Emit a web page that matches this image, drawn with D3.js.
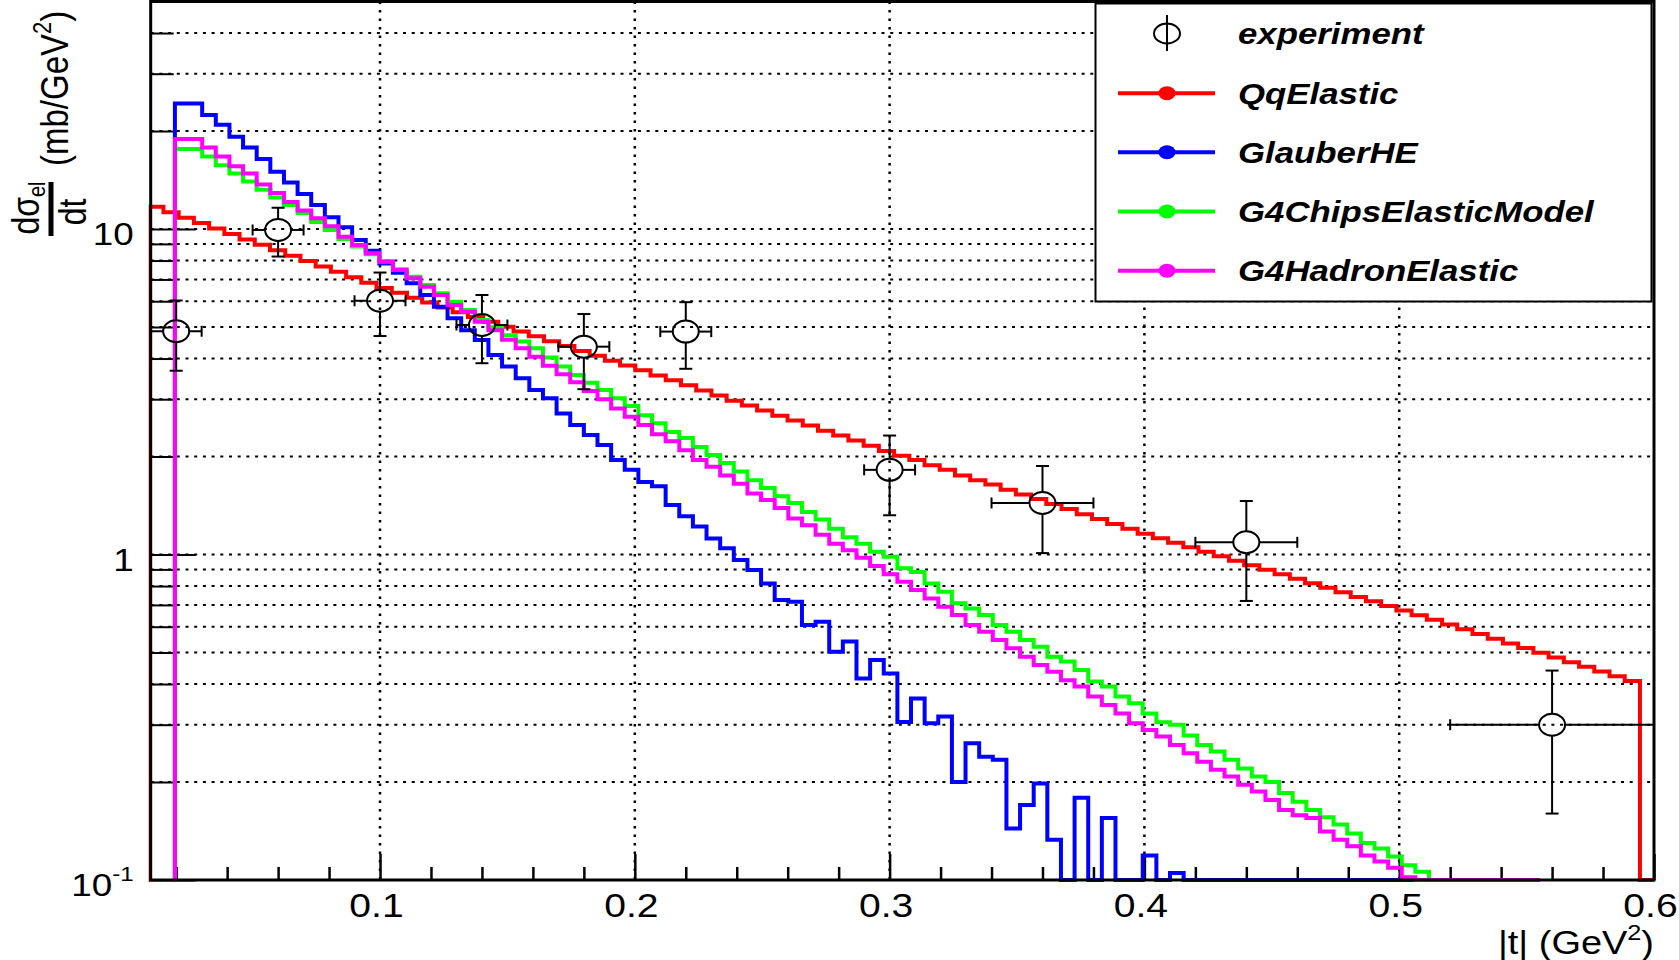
<!DOCTYPE html>
<html><head><meta charset="utf-8">
<script src="https://cdn.jsdelivr.net/npm/d3@7"></script>
<style>body{margin:0;background:#fff;} svg{display:block;}</style>
</head><body>
<svg id="chart" width="1679" height="960"></svg>
<script>
// ---------- DATA ----------
// histogram binning (|t| in GeV^2)
const qqBinStart = 0.00903, qqBinWidth = 0.005974;
const modelBinStart = 0.0195, modelBinWidth = 0.00535;

const qqElastic = [11.70, 11.26, 10.83, 10.43, 10.04, 9.66, 9.29, 8.94, 8.61, 8.28,
 7.97, 7.67, 7.39, 7.11, 6.84, 6.59, 6.37, 6.15, 5.95, 5.74,
 5.55, 5.37, 5.19, 5.01, 4.84, 4.68, 4.52, 4.37, 4.22, 4.08,
 3.94, 3.81, 3.68, 3.55, 3.43, 3.31, 3.19, 3.08, 2.97, 2.87,
 2.77, 2.67, 2.58, 2.49, 2.40, 2.32, 2.24, 2.16, 2.08, 2.01,
 1.95, 1.88, 1.82, 1.75, 1.69, 1.64, 1.58, 1.53, 1.48, 1.43,
 1.38, 1.33, 1.285, 1.24, 1.20, 1.158, 1.122, 1.087, 1.052, 1.019,
 0.987, 0.956, 0.927, 0.897, 0.869, 0.842, 0.816, 0.790, 0.765, 0.741,
 0.718, 0.695, 0.673, 0.651, 0.630, 0.609, 0.589, 0.570, 0.551, 0.533,
 0.516, 0.499, 0.483, 0.467, 0.452, 0.437, 0.423, 0.409, 0];

const glauberHE = [24.3, 24.3, 22.4, 20.9, 19.2, 17.8, 16.4, 15.0, 13.9, 12.8,
 11.85, 10.86, 10.12, 9.25, 8.58, 7.84, 7.34, 6.81, 6.27, 5.77,
 5.32, 4.89, 4.56, 4.10, 3.78, 3.48, 3.20, 3.02, 2.71, 2.50,
 2.33, 2.17, 1.95, 1.82, 1.67, 1.62, 1.42, 1.31, 1.22, 1.12,
 1.045, 0.962, 0.896, 0.815, 0.725, 0.716, 0.607, 0.622, 0.503, 0.540,
 0.416, 0.474, 0.431, 0.306, 0.361, 0.303, 0.318, 0.200, 0.263, 0.239,
 0.234, 0.144, 0.170, 0.198, 0.133, 0, 0.179, 0, 0.155, 0,
 0, 0.119, 0, 0.105, 0, 0, 0, 0, 0, 0,
 0, 0, 0, 0, 0, 0, 0, 0, 0, 0,
 0, 0, 0, 0, 0, 0, 0, 0, 0, 0];

const g4ChipsElasticModel = [17.6, 17.6, 16.7, 15.7, 14.8, 14.0, 13.2, 12.5, 11.85, 11.2,
 10.5, 9.93, 9.32, 8.83, 8.36, 7.94, 7.52, 7.14, 6.73, 6.35,
 5.98, 5.64, 5.25, 4.99, 4.72, 4.51, 4.30, 4.03, 3.78, 3.56,
 3.37, 3.20, 3.02, 2.86, 2.68, 2.53, 2.38, 2.28, 2.14, 2.02,
 1.91, 1.80, 1.69, 1.60, 1.51, 1.44, 1.35, 1.28, 1.20, 1.13,
 1.08, 1.02, 0.984, 0.907, 0.883, 0.815, 0.769, 0.708, 0.683, 0.652,
 0.607, 0.579, 0.546, 0.521, 0.485, 0.469, 0.442, 0.407, 0.393, 0.366,
 0.349, 0.325, 0.305, 0.300, 0.278, 0.260, 0.248, 0.234, 0.220, 0.208,
 0.200, 0.185, 0.174, 0.164, 0.156, 0.148, 0.139, 0.130, 0.125, 0.118,
 0.111, 0.106, 0, 0, 0, 0, 0, 0, 0, 0];

const g4HadronElastic = [18.9, 18.9, 17.8, 16.7, 15.6, 14.8, 13.7, 12.9, 12.1, 11.4,
 10.8, 10.2, 9.47, 8.93, 8.42, 7.94, 7.48, 7.06, 6.65, 6.27,
 5.84, 5.57, 5.19, 4.89, 4.57, 4.30, 4.05, 3.80, 3.58, 3.38,
 3.18, 3.00, 2.81, 2.65, 2.50, 2.34, 2.23, 2.09, 1.95, 1.86,
 1.75, 1.65, 1.54, 1.47, 1.39, 1.29, 1.23, 1.15, 1.08, 1.03,
 0.978, 0.922, 0.870, 0.825, 0.778, 0.733, 0.691, 0.652, 0.607, 0.579,
 0.546, 0.515, 0.485, 0.458, 0.436, 0.411, 0.393, 0.366, 0.345, 0.325,
 0.303, 0.289, 0.276, 0.260, 0.245, 0.231, 0.218, 0.208, 0.196, 0.187,
 0.176, 0.164, 0.158, 0.155, 0.141, 0.133, 0.127, 0.119, 0.114, 0.109,
 0.102, 0, 0, 0, 0, 0, 0, 0, 0, 0];

// experiment
const expT    = [0.02, 0.06, 0.10, 0.14, 0.18, 0.22, 0.30, 0.36, 0.44, 0.56];
const expV    = [4.85, 9.93, 6.02, 5.07, 4.35, 4.84, 1.82, 1.44, 1.09, 0.30];
const expErrT = [0.01, 0.01, 0.01, 0.01, 0.01, 0.01, 0.01, 0.02, 0.02, 0.04];
const expErrV = [1.18, 1.70, 1.33, 1.20, 1.13, 1.12, 0.50, 0.43, 0.37, 0.14];

const seriesNames = ["QqElastic", "GlauberHE", "G4ChipsElasticModel", "G4HadronElastic"];
const seriesColors = ["#ff0000", "#0000ff", "#00ff00", "#ff00ff"];
const expName = "experiment";

const xTickMajor = [0.1, 0.2, 0.3, 0.4, 0.5, 0.6];
const xTickLabels = ["0.1", "0.2", "0.3", "0.4", "0.5", "0.6"];
const xTickMinor = [0.02,0.04,0.06,0.08,0.12,0.14,0.16,0.18,0.22,0.24,0.26,0.28,0.32,0.34,0.36,0.38,0.42,0.44,0.46,0.48,0.52,0.54,0.56,0.58];
const yTickMajor = [0.1, 1, 10];
const yTickLabels = [["10","-1"], ["1",""], ["10",""]];
const yTickMinor = [0.2,0.3,0.4,0.5,0.6,0.7,0.8,0.9,2,3,4,5,6,7,8,9,20,30,40];

// ---------- LAYOUT ----------
const W = 1679, H = 960;
const M = {left: 150.7, right: 1654, top: 1.5, bottom: 880};
const SX = 1.15; // horizontal glyph stretch of the original
const FONT = "'Liberation Sans', Arial, Helvetica, sans-serif";

const x = d3.scaleLinear().domain([0.01, 0.6]).range([M.left, M.right]);
const y = d3.scaleLog().domain([0.1, 50]).range([M.bottom, M.top]);

const svg = d3.select("#chart");
svg.append("rect").attr("width", W).attr("height", H).attr("fill", "#fff");
const defs = svg.append("defs");
defs.append("clipPath").attr("id", "clip").append("rect")
  .attr("x", M.left - 2).attr("y", M.top).attr("width", M.right - M.left + 2).attr("height", M.bottom - M.top + 3);

// ---------- GRID ----------
const grid = svg.append("g");
grid.selectAll("line.gy").data(yTickMinor.concat([1, 10])).join("line")
  .attr("x1", M.left).attr("x2", M.right).attr("y1", d => y(d)).attr("y2", d => y(d))
  .attr("stroke", "#000").attr("stroke-width", 2).attr("stroke-dasharray", "3 5.7");
grid.selectAll("line.gx").data(xTickMajor.filter(d => d < 0.6)).join("line")
  .attr("y1", M.top).attr("y2", M.bottom).attr("x1", d => x(d)).attr("x2", d => x(d))
  .attr("stroke", "#000").attr("stroke-width", 2.5).attr("stroke-dasharray", "2.5 6");

// ---------- AXES (ticks) ----------
const xMinorAxis = d3.axisBottom(x).tickValues(xTickMinor).tickSize(-13).tickFormat("");
const xMajorAxis = d3.axisBottom(x).tickValues(xTickMajor).tickSize(-26).tickFormat((d, i) => xTickLabels[i]);
const gxm = svg.append("g").attr("transform", `translate(0,${M.bottom})`).call(xMinorAxis);
const gxM = svg.append("g").attr("transform", `translate(0,${M.bottom})`).call(xMajorAxis);
[gxm, gxM].forEach(g => { g.select(".domain").remove(); g.selectAll("line").attr("stroke", "#000").attr("stroke-width", 2.5); });
gxM.selectAll("text").attr("y", null).attr("dy", null)
  .attr("transform", "translate(-4,37) scale(" + SX + ",1)")
  .attr("font-family", FONT).attr("font-size", 34).attr("fill", "#000").attr("text-anchor", "middle");

const yMinorAxis = d3.axisLeft(y).tickValues(yTickMinor).tickSize(-23).tickFormat("");
const yMajorAxis = d3.axisLeft(y).tickValues(yTickMajor).tickSize(-45).tickFormat("");
const gym = svg.append("g").attr("transform", `translate(${M.left},0)`).call(yMinorAxis);
const gyM = svg.append("g").attr("transform", `translate(${M.left},0)`).call(yMajorAxis);
[gym, gyM].forEach(g => { g.select(".domain").remove(); g.selectAll("line").attr("stroke", "#000").attr("stroke-width", 2); });
gyM.selectAll(".tick").each(function(d, i) {
  const t = d3.select(this).select("text");
  t.attr("x", null).attr("dy", null).attr("text-anchor", "end")
    .attr("transform", "translate(-17,15.5) scale(" + SX + ",1)")
    .attr("font-family", FONT).attr("font-size", 32).attr("fill", "#000");
  t.append("tspan").text(yTickLabels[i][0]);
  if (yTickLabels[i][1]) t.append("tspan").attr("font-size", 21).attr("dy", -15).text(yTickLabels[i][1]);
});

// ---------- HISTOGRAMS ----------
function histPoints(start, width, vals) {
  const yv = v => (v > 0.1 ? y(v) : M.bottom);
  const pts = [[x(start), M.bottom]];
  vals.forEach((v, i) => {
    pts.push([x(start + i * width), yv(v)]);
    pts.push([x(start + (i + 1) * width), yv(v)]);
  });
  return pts;
}
const histData = [
  histPoints(qqBinStart, qqBinWidth, qqElastic),
  histPoints(modelBinStart, modelBinWidth, glauberHE),
  histPoints(modelBinStart, modelBinWidth, g4ChipsElasticModel),
  histPoints(modelBinStart, modelBinWidth, g4HadronElastic)
];
const plot = svg.append("g").attr("clip-path", "url(#clip)");
plot.selectAll("path.hist").data(histData).join("path")
  .attr("d", d3.line())
  .attr("fill", "none")
  .attr("stroke", (d, i) => seriesColors[i])
  .attr("stroke-width", 4)
  .attr("stroke-linejoin", "miter")
  .attr("stroke-linecap", "square");

// ---------- EXPERIMENT ----------
const RX = 13, RY = 11, CAPV = 6.5, CAPH = 5.5;
const expData = expT.map((t, i) => ({t, v: expV[i], et: expErrT[i], ev: expErrV[i]}));
const eg = plot.selectAll("g.exp").data(expData).join("g").attr("stroke", "#000").attr("stroke-width", 2).attr("fill", "none");
eg.each(function(d) {
  const g = d3.select(this);
  const cx = x(d.t), cy = y(d.v);
  const yt = y(d.v + d.ev), yb = y(Math.max(d.v - d.ev, 0.1001));
  const xl = x(d.t - d.et), xr = x(d.t + d.et);
  g.append("line").attr("x1", cx).attr("x2", cx).attr("y1", yt).attr("y2", cy - RY);
  g.append("line").attr("x1", cx).attr("x2", cx).attr("y1", cy + RY).attr("y2", yb);
  g.append("line").attr("x1", cx - CAPV).attr("x2", cx + CAPV).attr("y1", yt).attr("y2", yt);
  g.append("line").attr("x1", cx - CAPV).attr("x2", cx + CAPV).attr("y1", yb).attr("y2", yb);
  g.append("line").attr("x1", xl).attr("x2", cx - RX).attr("y1", cy).attr("y2", cy);
  g.append("line").attr("x1", cx + RX).attr("x2", xr).attr("y1", cy).attr("y2", cy);
  g.append("line").attr("x1", xl).attr("x2", xl).attr("y1", cy - CAPH).attr("y2", cy + CAPH);
  g.append("line").attr("x1", xr).attr("x2", xr).attr("y1", cy - CAPH).attr("y2", cy + CAPH);
  g.append("ellipse").attr("cx", cx).attr("cy", cy).attr("rx", RX).attr("ry", RY);
});

// ---------- FRAME ----------
svg.append("rect").attr("x", M.left).attr("y", M.top).attr("width", M.right - M.left).attr("height", M.bottom - M.top)
  .attr("fill", "none").attr("stroke", "#000").attr("stroke-width", 3);

// ---------- AXIS TITLES ----------
const xt = svg.append("text").attr("text-anchor", "end")
  .attr("transform", `translate(${M.right},954) scale(${SX},1)`)
  .attr("font-family", FONT).attr("font-size", 33).attr("fill", "#000");
xt.append("tspan").text("|t| (GeV");
xt.append("tspan").attr("font-size", 22).attr("dy", -14).text("2");
xt.append("tspan").attr("dy", 14).text(")");

const yt1 = svg.append("text").attr("text-anchor", "start")
  .attr("transform", `translate(68,166) scale(1.2,1) rotate(-90)`)
  .attr("font-family", FONT).attr("font-size", 33).attr("fill", "#000");
yt1.append("tspan").text("(mb/GeV");
yt1.append("tspan").attr("font-size", 22).attr("dy", -14).text("2");
yt1.append("tspan").attr("dy", 14).text(")");

const num = svg.append("text").attr("text-anchor", "middle")
  .attr("transform", `translate(39,208) scale(1.2,1) rotate(-90)`)
  .attr("font-family", FONT).attr("font-size", 32).attr("fill", "#000");
num.append("tspan").text("dσ");
num.append("tspan").attr("font-size", 20).attr("dy", 5).text("el");
svg.append("line").attr("x1", 51).attr("x2", 51).attr("y1", 182).attr("y2", 236)
  .attr("stroke", "#000").attr("stroke-width", 5);
svg.append("text").attr("text-anchor", "middle")
  .attr("transform", `translate(86,212) scale(1.2,1) rotate(-90)`)
  .attr("font-family", FONT).attr("font-size", 32).attr("fill", "#000").text("dt");

// ---------- LEGEND ----------
const L = {x: 1095.5, y: 3.5, w: 556, h: 298};
const lg = svg.append("g");
lg.append("rect").attr("x", L.x).attr("y", L.y).attr("width", L.w).attr("height", L.h)
  .attr("fill", "#fff").attr("stroke", "#000").attr("stroke-width", 2);
const rowY = [33.5, 93.3, 152.3, 211.5, 270.7];
const legendLabels = [expName].concat(seriesNames);
lg.selectAll("text.leg").data(legendLabels).join("text")
  .attr("transform", (d, i) => `translate(1238,${rowY[i] + 10.5}) scale(1.2,1)`)
  .attr("font-family", FONT).attr("font-size", 29).attr("font-weight", "bold").attr("font-style", "italic")
  .attr("fill", "#000").text(d => d);
// experiment symbol
lg.append("line").attr("x1", 1167).attr("x2", 1167).attr("y1", 15).attr("y2", 51).attr("stroke", "#000").attr("stroke-width", 2);
lg.append("ellipse").attr("cx", 1167).attr("cy", rowY[0]).attr("rx", 13).attr("ry", 10)
  .attr("fill", "none").attr("stroke", "#000").attr("stroke-width", 2);
// model symbols
const lrows = lg.selectAll("g.lrow").data(seriesNames).join("g");
lrows.append("line").attr("x1", 1118).attr("x2", 1215)
  .attr("y1", (d, i) => rowY[i + 1]).attr("y2", (d, i) => rowY[i + 1])
  .attr("stroke", (d, i) => seriesColors[i]).attr("stroke-width", 4);
lrows.append("ellipse").attr("cx", 1167).attr("cy", (d, i) => rowY[i + 1]).attr("rx", 8.5).attr("ry", 7)
  .attr("fill", (d, i) => seriesColors[i]);
</script>
</body></html>
